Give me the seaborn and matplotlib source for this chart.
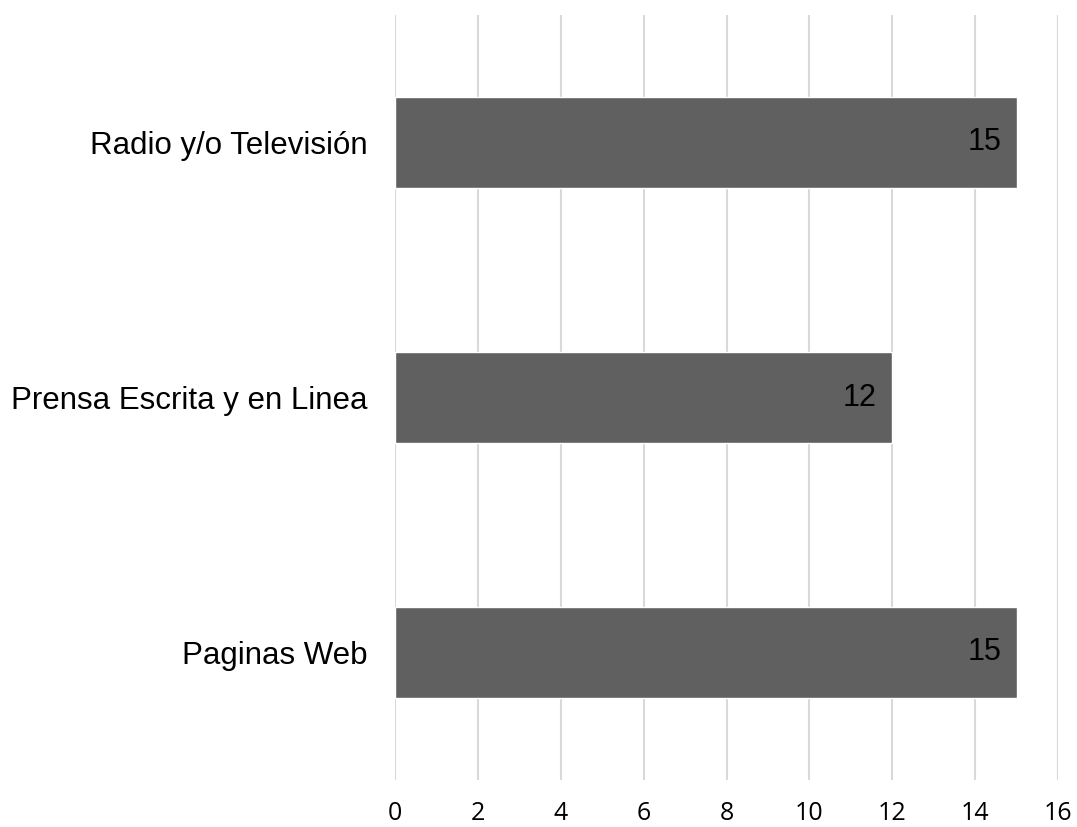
import pandas as pd
import seaborn as sns
import matplotlib.pyplot as plt

# data
categories = ["Radio y/o Televisión", "Prensa Escrita y en Linea", "Paginas Web"]
values = [15, 12, 15]
x_ticks = [0, 2, 4, 6, 8, 10, 12, 14, 16]

df = pd.DataFrame({"medio": categories, "cantidad": values})

sns.set_style("white")
plt.rcParams['font.family'] = ['Liberation Sans', 'DejaVu Sans']

fig = plt.figure(figsize=(10.77, 8.27), dpi=100)
ax = fig.add_axes([395 / 1077, 1 - 780 / 827, (1058 - 395) / 1077, 765 / 827])

sns.barplot(data=df, y="medio", x="cantidad", orient="h", color="#606060",
            width=0.353, saturation=1, ax=ax)

ax.set_xlim(0, 16)
ax.set_ylim(2.5, -0.5)
ax.set_xticks(x_ticks)
ax.set_xticklabels([str(t) for t in x_ticks], fontfamily="Open Sans", fontsize=18)
ax.grid(axis="x", color="#d9d9d9", linewidth=1.5)
ax.set_axisbelow(True)
ax.tick_params(axis="x", length=0, pad=15, labelcolor="black")
ax.tick_params(axis="y", length=0, pad=20, labelsize=22.5, labelcolor="black")
ax.set_xlabel("")
ax.set_ylabel("")
sns.despine(left=True, bottom=True)

# value labels inside the end of each bar
for i, v in enumerate(values):
    ax.annotate(str(v), xy=(v, i), xytext=(-11, 0), textcoords="offset points",
                ha="right", va="center", fontsize=22, color="black")

fig.savefig("out.png", dpi=100)
